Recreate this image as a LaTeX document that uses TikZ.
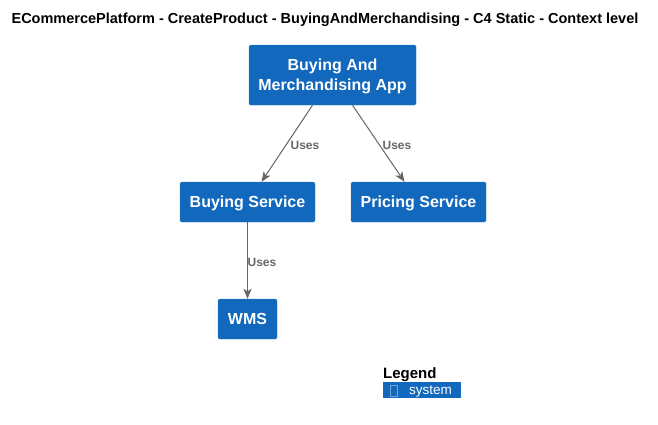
\documentclass[tikz,border=0pt]{standalone}
\usepackage{fontspec}
\setmainfont{Liberation Sans}
\usetikzlibrary{positioning,arrows.meta}
\definecolor{sysblue}{HTML}{1168BD}
\definecolor{sysline}{HTML}{3C7FC0}
\definecolor{relgray}{HTML}{666666}
\tikzset{
  system/.style={draw=sysline, fill=sysblue, rounded corners=1.5pt, text=white,
    font=\fontsize{16}{20}\selectfont\bfseries, align=center, inner sep=0pt, text depth=0pt},
  rel/.style={draw=relgray, >={Stealth[length=10pt,width=8pt,inset=2.5pt]}, ->, line width=1pt},
  rellabel/.style={text=relgray, font=\fontsize{12}{14}\selectfont\bfseries}
}
\begin{document}
\begin{tikzpicture}[x=1pt,y=-1pt]
\useasboundingbox (0,0) rectangle (658,424);

\node [font=\fontsize{14.5}{16}\selectfont\bfseries] (title) at (325,20) {ECommercePlatform - CreateProduct - BuyingAndMerchandising - C4 Static - Context level};

\node [system, minimum width=167pt, minimum height=60pt, text depth=-4pt] (app) at (332.5,75) {Buying And\\Merchandising App};
\node [system, minimum width=135pt, minimum height=40pt] (buying) at (247.5,202) {Buying Service};
\node [system, minimum width=135pt, minimum height=40pt] (pricing) at (418.5,202) {Pricing Service};
\node [system, minimum width=59pt, minimum height=40pt] (wms) at (247.5,319) {WMS};

\draw [rel] ([xshift=-20pt]app.south) -- ([xshift=14pt]buying.north);
\draw [rel] ([xshift=20pt]app.south) -- ([xshift=-14pt]pricing.north);
\draw [rel] (buying.south) -- (wms.north);

\node [rellabel] (uses1) at (305,145) {Uses};
\node [rellabel] (uses2) at (397,145) {Uses};
\node [rellabel] (uses3) at (262,262) {Uses};

% legend
\node [anchor=west, inner sep=0pt, font=\fontsize{15}{17}\selectfont\bfseries] (legend) at (383,375) {Legend};
\node [fill=sysblue, anchor=north west, minimum width=78pt, minimum height=16pt, inner sep=0pt] (legbox) at (383,382) {};
\draw [sysline!70!white, line width=0.5pt] (390,385) rectangle (397,396);
\node [anchor=west, inner sep=0pt, text=white, font=\fontsize{13.5}{15}\selectfont] (legsys) at (409,392) {system};
\end{tikzpicture}
\end{document}
